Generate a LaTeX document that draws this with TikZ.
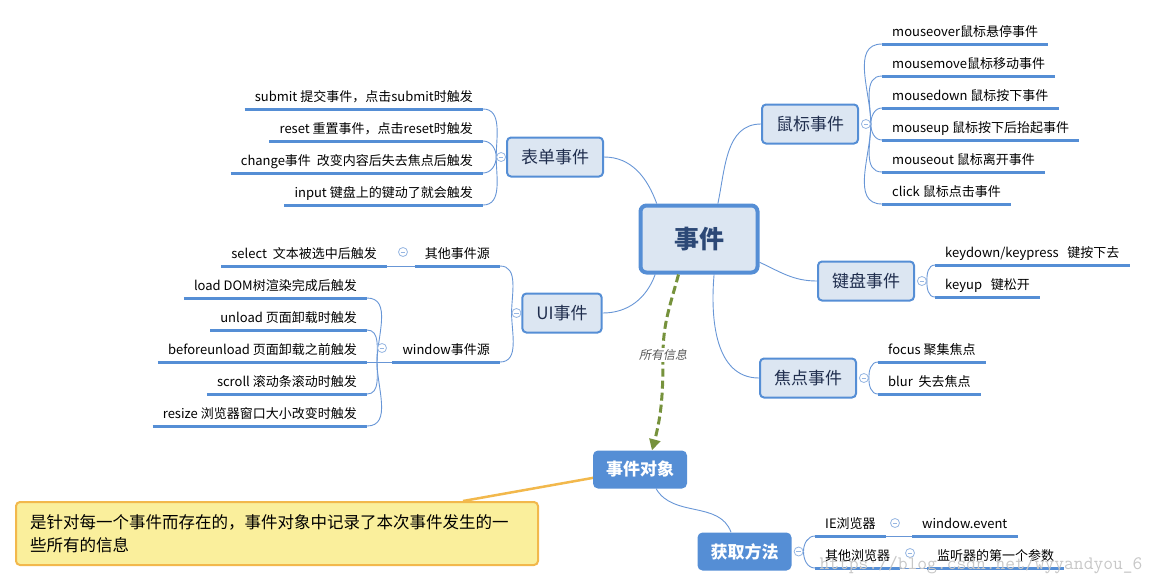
\documentclass[tikz,border=0pt]{standalone}
\usepackage{fontspec}
\setmainfont{Noto Sans CJK SC}
\newfontfamily\slfont[FakeSlant=0.2]{Noto Sans CJK SC}
\usetikzlibrary{positioning,arrows.meta,backgrounds}

\definecolor{mapblue}{RGB}{85,142,213}
\definecolor{linkblue}{RGB}{104,150,214}
\definecolor{foldblue}{RGB}{150,182,226}
\definecolor{topicfill}{RGB}{220,230,242}
\definecolor{topictext}{RGB}{31,45,77}
\definecolor{roottext}{RGB}{44,72,118}
\definecolor{infogreen}{RGB}{118,146,60}
\definecolor{memoline}{RGB}{242,184,76}
\definecolor{memofill}{RGB}{250,239,156}

\newcommand{\setfs}[1]{\fontsize{#1}{#1}\selectfont}

\begin{document}
\begin{tikzpicture}[x=1pt,y=1pt,node distance=32pt,>={Triangle[length=11pt,width=11pt]}]
  \tikzstyle{root}=[draw=mapblue,line width=4pt,fill=topicfill,rounded corners=6pt,minimum width=117pt,minimum height=67pt,text=roottext,font=\setfs{25}\bfseries]
  \tikzstyle{topic}=[draw=mapblue,line width=2pt,fill=topicfill,rounded corners=4pt,minimum height=39pt,inner xsep=14pt,text=topictext,font=\setfs{17}]
  \tikzstyle{subj}=[fill=mapblue,rounded corners=5pt,minimum height=38pt,inner xsep=13pt,text=white,font=\setfs{17}\bfseries]
  \tikzstyle{leafl}=[anchor=south east,inner xsep=10pt,inner ysep=4.75pt,text height=10.5pt,text depth=3pt,font=\setfs{13}]
  \tikzstyle{leafr}=[leafl,anchor=south west]
  \tikzstyle{fold}=[circle,draw=foldblue,fill=white,line width=0.8pt,minimum size=9pt,inner sep=0pt,
    path picture={\draw[foldblue,line width=0.7pt] ([xshift=2.2pt]path picture bounding box.west) -- ([xshift=-2.2pt]path picture bounding box.east);}]
  \tikzstyle{link}=[draw=linkblue,line width=0.9pt]
  \tikzstyle{uline}=[draw=mapblue,line width=3pt]
  \tikzstyle{info}=[draw=infogreen,line width=3pt,dash pattern=on 8pt off 4pt]
  \tikzstyle{lbl}=[fill=white,inner sep=1pt,text=black!65,font=\slfont\setfs{12}]
  \tikzstyle{memo}=[draw=memoline,line width=2pt,fill=memofill,rounded corners=4pt,minimum height=63pt,inner xsep=14pt,text width=494pt,align=left,font=\fontsize{16.5}{23}\selectfont]
  \tikzstyle{wmark}=[text=black!22,font=\ttfamily\setfs{19}]

  \useasboundingbox (0,0) rectangle (1158,-587);

  % centre and branches
  \node[root]  (ev)  at (699,-239)   {事件};
  \node[topic] (bd)  at (555,-157)   {表单事件};
  \node[topic] (ui)  at (562,-313)   {UI事件};
  \node[topic] (ms)  at (810,-124)   {鼠标事件};
  \node[topic] (kb)  at (866,-281)   {键盘事件};
  \node[topic] (fc)  at (808,-378)   {焦点事件};
  \node[subj]  (obj) at (640,-469.5) {事件对象};
  \node[subj]  (get) at (744.5,-551.5) {获取方法};

  \node[fold,left=0pt of bd]  (fbd)  {};
  \node[fold,left=0pt of ui]  (fui)  {};
  \node[fold,right=2pt of ms] (fms)  {};
  \node[fold,right=2pt of kb] (fkb)  {};
  \node[fold,right=2pt of fc] (ffc)  {};
  \node[fold,right=2pt of get] (fget) {};

  % form events
  \node[leafl] (sub) at (483,-109) {submit 提交事件，点击submit时触发};
  \node[below=of sub.south east,leafl] (rst) {reset 重置事件，点击reset时触发};
  \node[below=of rst.south east,leafl] (chg) {change事件\ \ 改变内容后失去焦点后触发};
  \node[below=of chg.south east,leafl] (inp) {input 键盘上的键动了就会触发};

  % UI events
  \node[leafl] (oth) at (500,-266) {其他事件源};
  \node[leafl] (sel) at (387,-266) {select\ \ 文本被选中后触发};
  \node[fold]  (foth) at (403,-252) {};
  \node[leafl] (win) at (500,-362) {window事件源};
  \node[fold]  (fwin) at (382,-348) {};
  \coordinate (wj) at (377,-362);
  \node[leafl] (lod) at (367,-298) {load DOM树渲染完成后触发};
  \node[below=of lod.south east,leafl] (unl) {unload 页面卸载时触发};
  \node[below=of unl.south east,leafl] (bfu) {beforeunload 页面卸载之前触发};
  \node[below=of bfu.south east,leafl] (scr) {scroll 滚动条滚动时触发};
  \node[below=of scr.south east,leafl] (rsz) {resize 浏览器窗口大小改变时触发};

  % mouse events
  \node[leafr] (mov) at (882,-44) {mouseover鼠标悬停事件};
  \node[below=of mov.south west,leafr] (mmv) {mousemove鼠标移动事件};
  \node[below=of mmv.south west,leafr] (mdn) {mousedown 鼠标按下事件};
  \node[below=of mdn.south west,leafr] (mup) {mouseup 鼠标按下后抬起事件};
  \node[below=of mup.south west,leafr] (mot) {mouseout 鼠标离开事件};
  \node[below=of mot.south west,leafr] (clk) {click 鼠标点击事件};

  % keyboard and focus
  \node[leafr] (kd) at (935,-265) {keydown/keypress\ \ \ 键按下去};
  \node[below=of kd.south west,leafr] (ku) {keyup\ \ \ 键松开};
  \node[leafr] (fo) at (878,-362) {focus 聚集焦点};
  \node[below=of fo.south west,leafr] (bl) {blur\ \ 失去焦点};

  % how to get it
  \node[leafr] (ieb) at (815,-536) {IE浏览器};
  \node[below=of ieb.south west,leafr] (otb) {其他浏览器};
  \node[leafr] (wev) at (912,-536) {window.event};
  \node[leafr] (lsn) at (927,-568) {监听器的第一个参数};
  \node[fold]  (fie)  at (895,-523) {};
  \node[fold]  (fotb) at (910,-553) {};

  \node[memo] (nt) at (277,-533.5) {是针对每一个事件而存在的，事件对象中记录了本次事件发生的一\\些所有的信息};

  \begin{scope}[on background layer]
    \draw[link] (bd.east) to[out=0,in=110] (ev.140);
    \draw[link] (ev.62) to[out=78,in=180] (ms.west);
    \draw[link] (ev.-21) to[out=-25,in=180] (kb.west);
    \draw[link] (ev.-67) to[out=-95,in=180] (fc.west);
    \draw[link] (ev.-141) to[out=-110,in=0] (ui.east);
    \draw[link] (obj.-50) to[out=-60,in=110] (get.125);
    \draw[memoline,line width=2.5pt] ([xshift=-76pt]nt.north east) -- (obj.center);

    \draw[link] (fbd.west) edge[out=90,in=0] (sub.south east) edge[out=90,in=0] (rst.south east)
      edge[out=-90,in=0] (chg.south east) edge[out=-90,in=0] (inp.south east);
    \draw[link] (fui.west) edge[out=90,in=0] (oth.south east) edge[out=-90,in=0] (win.south east);
    \draw[link] (sel.south east) -- (oth.south west);
    \draw[link] (bfu.south east) -- (win.south west);
    \draw[link] (wj) edge[out=90,in=0] (lod.south east) edge[out=90,in=0] (unl.south east)
      edge[out=-90,in=0] (scr.south east) edge[out=-90,in=0] (rsz.south east);
    \draw[link] (fms.east) edge[out=90,in=180] (mov.south west) edge[out=90,in=180] (mmv.south west)
      edge[out=90,in=180] (mdn.south west) edge[out=-90,in=180] (mup.south west)
      edge[out=-90,in=180] (mot.south west) edge[out=-90,in=180] (clk.south west);
    \draw[link] (fkb.east) edge[out=90,in=180] (kd.south west) edge[out=-90,in=180] (ku.south west);
    \draw[link] (ffc.east) edge[out=90,in=180] (fo.south west) edge[out=-90,in=180] (bl.south west);
    \draw[link] (fget.east) edge[out=90,in=180] (ieb.south west) edge[out=-90,in=180] (otb.south west);
    \draw[link] (ieb.south east) -- (wev.south west);
    \draw[link] (otb.south east) -- (lsn.south west);
  \end{scope}

  \foreach \n in {sub,rst,chg,inp,oth,sel,win,lod,unl,bfu,scr,rsz,mov,mmv,mdn,mup,mot,clk,kd,ku,fo,bl,ieb,otb,wev,lsn}
    \draw[uline] (\n.south west) -- (\n.south east);

  \draw[info,->] (ev.-120) to[out=-105,in=90] (663,-355) node[lbl] {所有信息} to[out=-90,in=75] (obj.58);

  \node[wmark] (wm) at (981,-565) {https://blog.csdn.net/wyyandyou\_6};
\end{tikzpicture}
\end{document}
